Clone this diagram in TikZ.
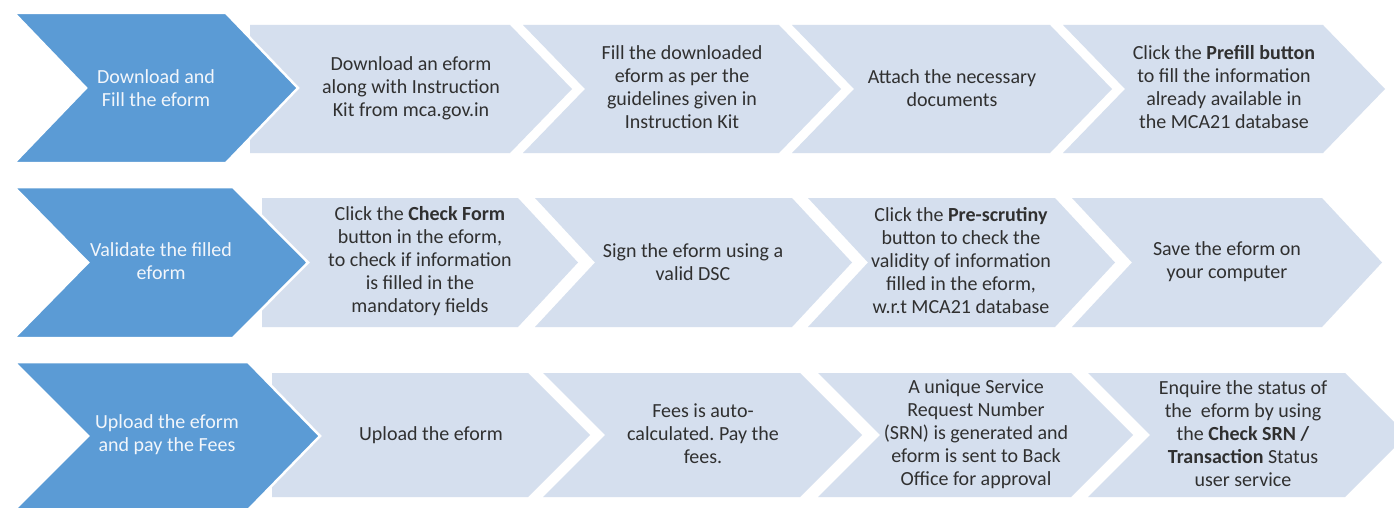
\documentclass[tikz,border=0pt]{standalone}
\usepackage{fontspec}
\setmainfont{Carlito}
\definecolor{dkb}{HTML}{5B9BD5}
\definecolor{ltb}{HTML}{D5DFEE}
\definecolor{txt}{HTML}{303030}
\definecolor{wtxt}{HTML}{F2F6FB}
% #2 left, #3 notch depth, #4 corner, #5 tip, #6 top, #7 bottom
\newcommand\mychev[7][ltb]{%
  \path[fill=#1] (#2,#6) -- (#4,#6) -- (#5,{(#6+#7)/2}) -- (#4,#7) -- (#2,#7) -- ({#2+#3},{(#6+#7)/2}) -- cycle;}
\newcommand\mydark[7]{%
  \path[fill=dkb,draw=white,line width=2.5pt,line join=miter] (#1,#5) -- (#3,#5) -- (#4,{(#5+#6)/2}) -- (#3,#6) -- (#1,#6) -- ({#1+#2},{(#5+#6)/2}) -- cycle;}
\tikzset{
  lt/.style={align=center,text=txt,font=\frenchspacing\fontsize{20}{23}\selectfont,inner sep=0pt},
  dk/.style={align=center,text=wtxt,font=\frenchspacing\fontsize{20}{23}\selectfont,inner sep=0pt}
}
\begin{document}
\frenchspacing
\begin{tikzpicture}[x=1pt,y=-1pt]
\clip (0,0) rectangle (1394,508);
\fill[white] (0,0) rectangle (1394,508);
% ---------- Row 1 ----------
\mychev{250}{0}{510}{572}{25}{153}
\mychev{523}{62}{779}{841}{25}{153}
\mychev{792}{62}{1050}{1112}{25}{153}
\mychev{1063}{62}{1323}{1385}{25}{153}
\mydark{14}{72}{226}{298}{13}{163}{}
% ---------- Row 2 ----------
\mychev{262}{0}{518}{578}{198}{327}
\mychev{535}{60}{792}{852}{198}{327}
\mychev{808}{60}{1055}{1115}{198}{327}
\mychev{1072}{60}{1322}{1382}{198}{327}
\mydark{14}{74}{233}{308}{187}{338}{}
% ---------- Row 3 ----------
\mychev{272}{0}{528}{590}{373}{497}
\mychev{543}{62}{800}{862}{373}{497}
\mychev{818}{62}{1071}{1133}{373}{497}
\mychev{1088}{62}{1345}{1407}{373}{497}
\mydark{14}{74}{248}{320}{362}{510}{}
% ---------- Texts row 1 ----------
\node[dk] (d1) at (156,88) {Download and\\Fill the eform};
\node[lt] (a1) at (411,88) {Download an eform\\along with Instruction\\Kit from mca.gov.in};
\node[lt] (a2) at (682,87) {Fill the downloaded\\eform as per the\\guidelines given in\\Instruction Kit};
\node[lt] (a3) at (952,88) {Attach the necessary\\documents};
\node[lt] (a4) at (1224,87) {Click the \textbf{Prefill button}\\to fill the information\\already available in\\the MCA21 database};
% ---------- Texts row 2 ----------
\node[dk] (d2) at (161,261) {Validate the filled\\eform};
\node[lt] (b1) at (420,261) {Click the \textbf{Check Form}\\button in the eform,\\to check if information\\is filled in the\\mandatory fields};
\node[lt] (b2) at (693,262) {Sign the eform using a\\valid DSC};
\node[lt] (b3) at (961,261) {Click the \textbf{Pre-scrutiny}\\button to check the\\validity of information\\filled in the eform,\\w.r.t MCA21 database};
\node[lt] (b4) at (1227,262) {Save the eform on\\your computer};
% ---------- Texts row 3 ----------
\node[dk] (d3) at (167,435) {Upload the eform\\and pay the Fees};
\node[lt] (c1) at (431,435) {Upload the eform};
\node[lt] (c2) at (703,434) {Fees is auto-\\calculated. Pay the\\fees.};
\node[lt] (c3) at (976,434) {A unique Service\\Request Number\\(SRN) is generated and\\eform is sent to Back\\Office for approval};
\node[lt] (c4) at (1243,434) {Enquire the status of\\the\ \ eform by using\\the \textbf{Check SRN /}\\\textbf{Transaction} Status\\user service};
\end{tikzpicture}
\end{document}
